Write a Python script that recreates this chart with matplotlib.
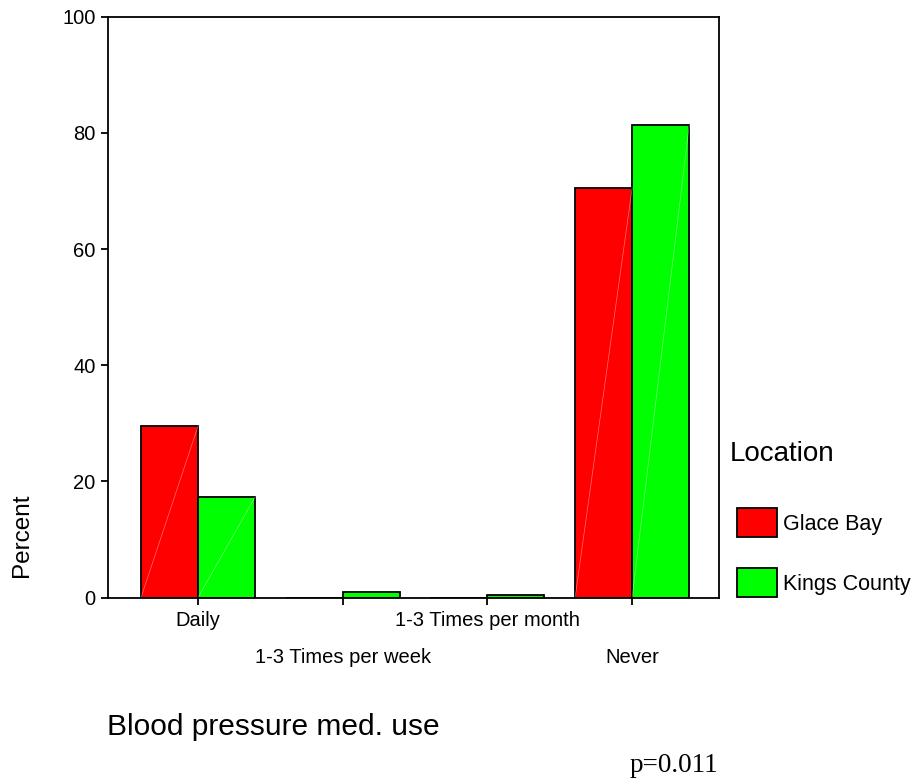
import matplotlib
matplotlib.use("Agg")
import matplotlib.pyplot as plt
import matplotlib.patches as mpatches
import numpy as np

# data
categories = ["Daily", "1-3 Times per week", "1-3 Times per month", "Never"]
glace_bay = [29.5, 0.0, 0.0, 70.5]
kings_county = [17.3, 1.0, 0.4, 81.3]
y_ticks = [0, 20, 40, 60, 80, 100]

COLORS = {
    'glace': '#FF0000',
    'kings': '#00FF00',
    'edge': '#000000',
}

plt.rcParams['font.family'] = ['Liberation Sans', 'DejaVu Sans']

fig = plt.figure(figsize=(9.13, 7.82), dpi=100, facecolor='white')
ax = fig.add_axes([0.1183, 0.2359, 0.6692, 0.7427])

x = np.arange(len(categories))
width = 0.394

bars_g = ax.bar(x - width / 2, glace_bay, width, color=COLORS['glace'],
                edgecolor=COLORS['edge'], linewidth=1.3, label='Glace Bay', zorder=3)
bars_k = ax.bar(x + width / 2, kings_county, width, color=COLORS['kings'],
                edgecolor=COLORS['edge'], linewidth=1.3, label='Kings County', zorder=3)

# faint diagonal rendering streak seen on the original bars
for patch in list(bars_g) + list(bars_k):
    h = patch.get_height()
    if h > 2:
        x0 = patch.get_x()
        ax.plot([x0, x0 + patch.get_width()], [0, h], color='white',
                lw=0.5, alpha=0.45, zorder=4)

ax.set_xlim(-0.622, 3.60)
ax.set_ylim(0, 100)
ax.set_yticks(y_ticks)
ax.set_xticks(x)
ax.set_xticklabels(categories)

for spine in ax.spines.values():
    spine.set_linewidth(1.3)
    spine.set_zorder(5)

ax.tick_params(axis='both', direction='out', length=5, width=1.3,
               labelsize=14.5, colors='black')
ax.tick_params(axis='y', pad=4)

# staggered category labels
for i, tick in enumerate(ax.xaxis.get_major_ticks()):
    tick.set_pad(5 if i % 2 == 0 else 31)

fig.text(0.024, 0.316, 'Percent', rotation=90, fontsize=17.5,
         ha='center', va='center')
fig.text(0.117, 0.060, 'Blood pressure med. use', fontsize=21.5,
         ha='left', va='baseline')
fig.text(0.69, 0.0128, 'p=0.011', fontsize=19.5, family='Liberation Serif',
         ha='left', va='baseline')

# legend: title drawn on its own so it can sit a little left of the swatches
fig.text(0.7995, 0.4195, 'Location', fontsize=20, ha='left', va='center')
handles = [
    mpatches.Patch(facecolor=COLORS['glace'], edgecolor='black', linewidth=1.3, label='Glace Bay'),
    mpatches.Patch(facecolor=COLORS['kings'], edgecolor='black', linewidth=1.3, label='Kings County'),
]
leg = fig.legend(handles=handles, loc='upper left',
                 bbox_to_anchor=(0.8072, 0.3504), frameon=False, fontsize=15.5,
                 handlelength=1.86, handleheight=1.7,
                 handletextpad=0.28, labelspacing=1.44, borderpad=0,
                 borderaxespad=0)

fig.savefig('out.png', dpi=100, facecolor='white')
